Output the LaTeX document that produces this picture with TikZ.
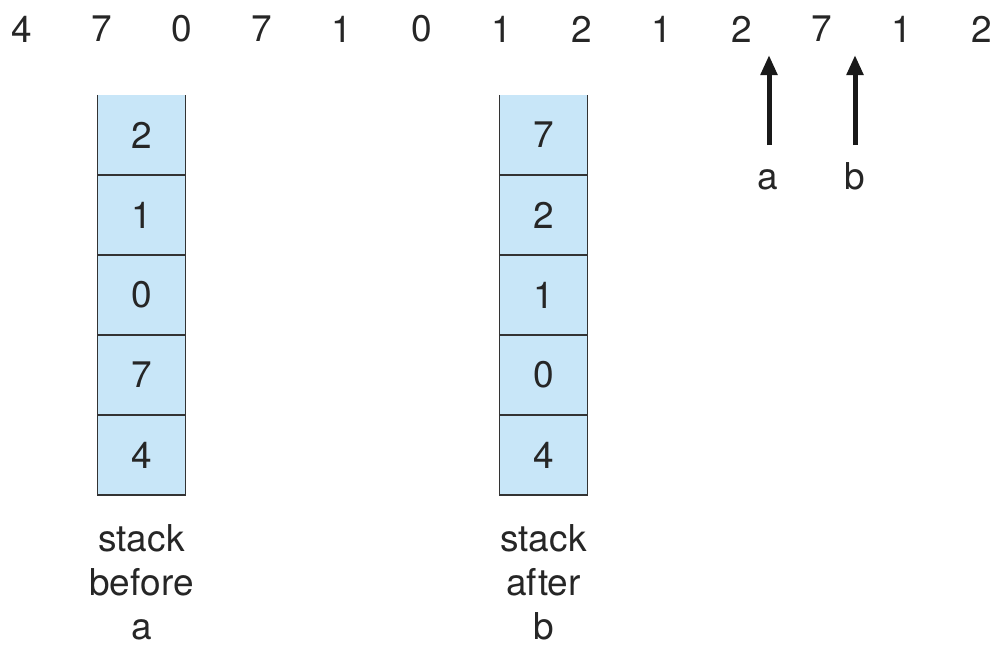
\documentclass[tikz,border=0pt]{standalone}
\usepackage{fontspec}
\setmainfont{TeX Gyre Heros}
\usetikzlibrary{arrows.meta, positioning}
\definecolor{stackblue}{RGB}{200,230,248}

\begin{document}
\begin{tikzpicture}[
    x=1pt, y=-1pt,
    cell/.style={fill=stackblue, minimum width=88pt, minimum height=80pt,
                 inner sep=0pt, text=black!85, font=\fontsize{37}{44}\selectfont},
    ref/.style={inner sep=0pt, text=black!85, font=\fontsize{37}{44}\selectfont},
    lbl/.style={inner sep=0pt, align=center, text=black!85,
                font=\fontsize{37}{44}\selectfont},
    edge/.style={line width=1.5pt, draw=black!80},
    ptr/.style={-{Triangle[width=16pt, length=20pt]}, line width=5pt, draw=black!90},
  ]
  \useasboundingbox (0,0) rectangle (1001,648);

  % reference string
  \foreach \d [count=\i] in {4,7,0,7,1,0,1,2,1,2,7,1,2} {
    \node[ref] (r\i) at (22+80*\i-80, 29) {\d};
  }

  % stack before a
  \foreach \v [count=\k] in {2,1,0,7,4} {
    \node[cell] (s\k) at (141.5, 55+80*\k) {\v};
  }
  \draw[edge] (s1.north west) -- (s5.south west) -- (s5.south east) -- (s1.north east);
  \foreach \k in {1,...,4} \draw[edge] (s\k.south west) -- (s\k.south east);
  \node[lbl, below=29pt of s5] (sl) {stack\\before\\a};

  % stack after b
  \foreach \v [count=\k] in {7,2,1,0,4} {
    \node[cell] (t\k) at (543.5, 55+80*\k) {\v};
  }
  \draw[edge] (t1.north west) -- (t5.south west) -- (t5.south east) -- (t1.north east);
  \foreach \k in {1,...,4} \draw[edge] (t\k.south west) -- (t\k.south east);
  \node[lbl, below=29pt of t5] (tl) {stack\\after\\b};

  % pointers a and b
  \node[ref, anchor=base] (pa) at (768, 189) {a};
  \node[ref, anchor=base] (pb) at (855, 189) {b};
  \coordinate (pa0) at (769, 145);
  \coordinate (pa1) at (769, 55);
  \coordinate (pb0) at (855, 145);
  \coordinate (pb1) at (855, 55);
  \draw[ptr] (pa0) -- (pa1);
  \draw[ptr] (pb0) -- (pb1);
\end{tikzpicture}
\end{document}
